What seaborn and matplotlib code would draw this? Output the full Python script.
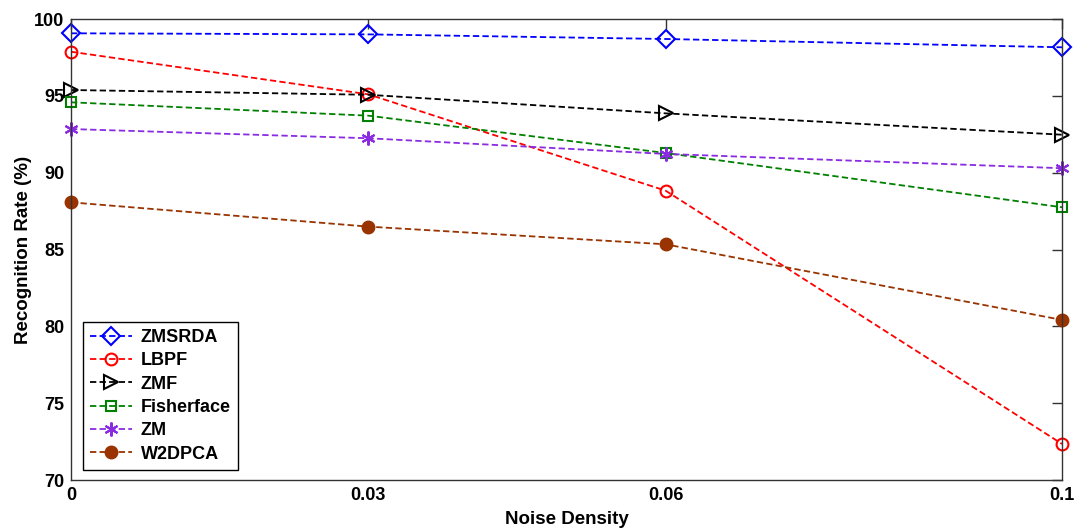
import matplotlib
matplotlib.use("Agg")
import matplotlib.pyplot as plt
import seaborn as sns
import pandas as pd

noise = [0, 0.03, 0.06, 0.1]
zmsrda = [99.07, 99.0, 98.7, 98.16]
lbpf = [97.87, 95.1, 88.83, 72.35]
zmf = [95.38, 95.07, 93.86, 92.47]
fisherface = [94.58, 93.71, 91.28, 87.75]
zm = [92.84, 92.24, 91.22, 90.29]
w2dpca = [88.07, 86.49, 85.34, 80.42]

series_names = ["ZMSRDA", "LBPF", "ZMF", "Fisherface", "ZM", "W2DPCA"]
series_vals = [zmsrda, lbpf, zmf, fisherface, zm, w2dpca]
colors = ["#0000FF", "#FF0000", "#000000", "#008000", "#8A2BE2", "#993300"]
markers = ["D", "o", ">", "s", (6, 2, 0), "o"]
msizes = [9, 8.5, 9.5, 7.5, 10, 8.5]
filled = [False, False, False, False, True, True]

sns.set_theme(style="white")
plt.rcParams["font.family"] = ["Liberation Sans", "DejaVu Sans"]
plt.rcParams["font.weight"] = "bold"
for k in ["text.color", "axes.labelcolor", "xtick.labelcolor", "ytick.labelcolor"]:
    plt.rcParams[k] = "black"

fig = plt.figure(figsize=(10.82, 5.31), dpi=100)
ax = fig.add_axes([0.0656, 0.096, 0.9159, 0.8682])

for name, vals, c, m, ms, f in zip(series_names, series_vals, colors, markers, msizes, filled):
    df = pd.DataFrame({"x": noise, "y": vals})
    sns.lineplot(data=df, x="x", y="y", ax=ax, color=c, marker=m, markersize=ms,
                 linestyle=(0, (3.5, 1.8)), linewidth=1.3,
                 markerfacecolor=(c if f else "none"), markeredgecolor=c,
                 markeredgewidth=1.5, label=name, clip_on=False)

ax.set_xlim(0, 0.1)
ax.set_ylim(70, 100)
ax.set_xticks(noise)
ax.set_xticklabels(["0", "0.03", "0.06", "0.1"])
ax.set_yticks([70, 75, 80, 85, 90, 95, 100])
ax.tick_params(direction="in", length=7, width=1, top=True, right=True,
               labelsize=13, pad=5, color="#333333", labelcolor="black")
for lab in ax.get_xticklabels() + ax.get_yticklabels():
    lab.set_fontweight("bold")
for s in ax.spines.values():
    s.set_color("#333333")
    s.set_linewidth(1.0)
ax.set_xlabel("Noise Density", fontsize=13.5, fontweight="bold", labelpad=5, color="black")
ax.set_ylabel("Recognition Rate (%)", fontsize=13.5, fontweight="bold", labelpad=1, color="black")

leg = ax.legend(loc="lower left", bbox_to_anchor=(0.012, 0.022), frameon=True,
                fancybox=False, edgecolor="black", framealpha=1,
                prop={"weight": "bold", "size": 13}, handlelength=2.3,
                labelspacing=0.35, borderpad=0.4, handletextpad=0.5, borderaxespad=0)
leg.get_frame().set_linewidth(1.0)
for t in leg.get_texts():
    t.set_color("black")

fig.savefig("out.png", dpi=100)
